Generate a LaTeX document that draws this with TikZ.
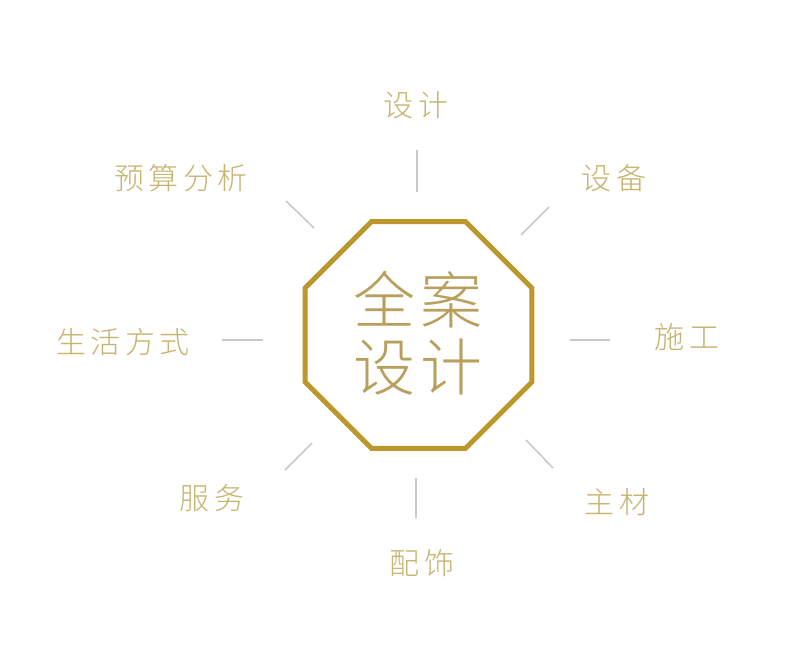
\documentclass[tikz,border=0pt]{standalone}
\usepackage{fontspec}
\usetikzlibrary{shapes.geometric}
\IfFontExistsTF{Noto Sans CJK SC Light}{%
  \newfontfamily\cjk{Noto Sans CJK SC Light}}{%
  \newfontfamily\cjk{Noto Sans CJK SC}}
\definecolor{octgold}{RGB}{188,152,44}
\definecolor{ctext}{RGB}{184,160,92}
\definecolor{ltext}{RGB}{198,180,112}
\definecolor{tick}{RGB}{200,200,206}
\tikzset{
  lbl/.style={text=ltext, font=\cjk\fontsize{30}{32}\selectfont, inner sep=0pt},
  tickline/.style={draw=tick, line width=1.5pt},
}
\newcommand{\ks}{\kern4.5pt}
\begin{document}
\begin{tikzpicture}[x=1pt,y=-1pt]
\useasboundingbox (0,0) rectangle (800,666);
\fill[white] (0,0) rectangle (800,666);
\node[regular polygon, regular polygon sides=8, minimum size=245.6pt, inner sep=0pt,
      draw=octgold, line width=5pt] (oct) at (418.5,335) {};
\node[text=ctext, font=\cjk\fontsize{62}{67}\selectfont, align=center, inner sep=0pt]
  (center) at (418,333.5) {全\kern6pt 案\\设\kern6pt 计};
% labels
\node[lbl] (sheji) at (416,105) {设\ks 计};
\node[lbl] (shebei) at (614,178) {设\ks 备};
\node[lbl] (shigong) at (687,337) {施\ks 工};
\node[lbl] (zhucai) at (617,502) {主\ks 材};
\node[lbl] (peishi) at (422,563) {配\ks 饰};
\node[lbl] (fuwu) at (212,498) {服\ks 务};
\node[lbl] (shenghuo) at (123,342) {生\ks 活\ks 方\ks 式};
\node[lbl] (yusuan) at (181,178) {预\ks 算\ks 分\ks 析};
% tick endpoints
\coordinate (t1a) at (417,150); \coordinate (t1b) at (417,192);
\coordinate (t2a) at (549,207); \coordinate (t2b) at (521,235);
\coordinate (t3a) at (570,340); \coordinate (t3b) at (610,340);
\coordinate (t4a) at (526,440); \coordinate (t4b) at (553,468);
\coordinate (t5a) at (416,478); \coordinate (t5b) at (416,518);
\coordinate (t6a) at (312,443); \coordinate (t6b) at (285,470);
\coordinate (t7a) at (222,340); \coordinate (t7b) at (263,340);
\coordinate (t8a) at (286,201); \coordinate (t8b) at (314,228);
\foreach \i in {1,...,8} \draw[tickline] (t\i a) -- (t\i b);
\end{tikzpicture}
\end{document}
